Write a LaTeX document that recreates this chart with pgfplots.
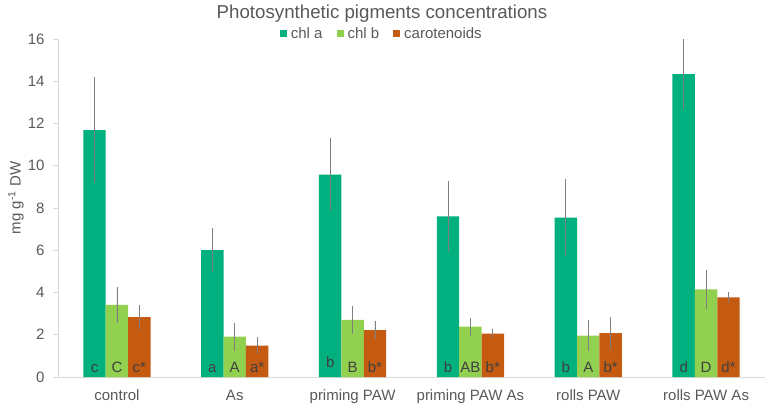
\documentclass[border=0pt]{standalone}
\usepackage{pgfplots}
\pgfplotsset{compat=1.18}
\usepackage{pgfplotstable}
\usepackage{fontspec}
\setmainfont{Liberation Sans}
\definecolor{chla}{HTML}{00B07E}
\definecolor{chlb}{HTML}{92D050}
\definecolor{carot}{HTML}{C55A11}
\definecolor{txtgray}{HTML}{595959}
\definecolor{lblgray}{HTML}{404040}
\definecolor{axisgray}{HTML}{D9D9D9}
\definecolor{errgray}{HTML}{808080}

% x  chl a (err, letter, letter y)  chl b (err, letter)  carotenoids (err, letter)
\pgfplotstableread{
x chla ea la ly chlb eb lb carot ec lc
0 11.69 2.50 c 0.19 3.41 0.83 C 2.83 0.58 c*
1 6.01 1.02 a 0.19 1.91 0.66 A 1.48 0.40 a*
2 9.58 1.74 b 0.43 2.71 0.67 B 2.22 0.42 b*
3 7.60 1.70 b 0.19 2.38 0.43 AB 2.05 0.22 b*
4 7.55 1.80 b 0.19 1.96 0.74 A 2.08 0.77 b*
5 14.34 1.64 d 0.19 4.15 0.92 D 3.77 0.27 d*
}\data

\pgfplotsset{
  mybar/.style={ybar, bar width=22.4pt, draw=none,
    legend image code/.code={\fill[##1] (0pt,-3.5pt) rectangle (7pt,3.5pt);},
    error bars/y dir=both, error bars/y explicit, error bars/error mark=none,
    error bars/error bar style={line width=0.8pt, errgray}},
  letters/.style={draw=none, mark=none, forget plot, nodes near coords,
    point meta=explicit symbolic,
    nodes near coords style={anchor=base, inner sep=0pt, text=lblgray,
      font=\fontsize{15}{15}\selectfont}},
}

\begin{document}
\begin{tikzpicture}
\begin{axis}[
  scale only axis, width=707pt, height=338pt,
  xmin=-0.5, xmax=5.5, ymin=0, ymax=16,
  xtick={0,...,5},
  xticklabels={control, As, priming PAW, priming PAW As, rolls PAW, rolls PAW As},
  ytick={0,2,...,16},
  axis x line=bottom, axis y line=left,
  axis line style={draw=axisgray, line width=0.8pt, -},
  tick align=outside, major tick length=5pt,
  xtick style={draw=none}, ytick style={draw=axisgray, line width=0.8pt},
  /pgf/number format/assume math mode=true,
  ticklabel style={font=\fontsize{15}{18}\selectfont, text=txtgray},
  xticklabel style={anchor=base, yshift=-18pt},
  yticklabel style={xshift=-5pt},
  ylabel={mg g\textsuperscript{-1} DW},
  every axis y label/.style={at={(axis description cs:-0.0594,0.53)}, rotate=90,
    anchor=center, font=\fontsize{15}{18}\selectfont, text=txtgray},
  legend columns=3,
  legend style={at={(axis description cs:0.458,1.0148)}, anchor=center,
    draw=none, fill=none, inner sep=0pt, font=\fontsize{15}{18}\selectfont,
    text=txtgray, /tikz/every even column/.append style={column sep=12pt},
    /tikz/every odd column/.append style={column sep=2pt}},
  clip=false,
]
\addplot[mybar, bar shift=-22.4pt, fill=chla, error bars/error bar style={xshift=-22.4pt}]
  table[x=x, y=chla, y error=ea] {\data};
\addplot[mybar, bar shift=0pt, fill=chlb]
  table[x=x, y=chlb, y error=eb] {\data};
\addplot[mybar, bar shift=22.4pt, fill=carot, error bars/error bar style={xshift=22.4pt}]
  table[x=x, y=carot, y error=ec] {\data};
\legend{chl a, chl b, carotenoids}
\addplot[letters] table[x expr=\thisrow{x}-0.19, y=ly, meta=la] {\data};
\addplot[letters] table[x=x, y expr=0.19, meta=lb] {\data};
\addplot[letters] table[x expr=\thisrow{x}+0.19, y expr=0.19, meta=lc] {\data};
\coordinate (bl) at (rel axis cs:0,0);
\end{axis}
\node[anchor=base, text=txtgray, font=\fontsize{18.7}{20}\selectfont]
  at ([shift={(324pt,358pt)}]bl) {Photosynthetic pigments concentrations};
\pgfresetboundingbox
\path[use as bounding box] ([shift={(-58pt,-33pt)}]bl) rectangle ([shift={(717pt,377pt)}]bl);
\end{tikzpicture}
\end{document}
